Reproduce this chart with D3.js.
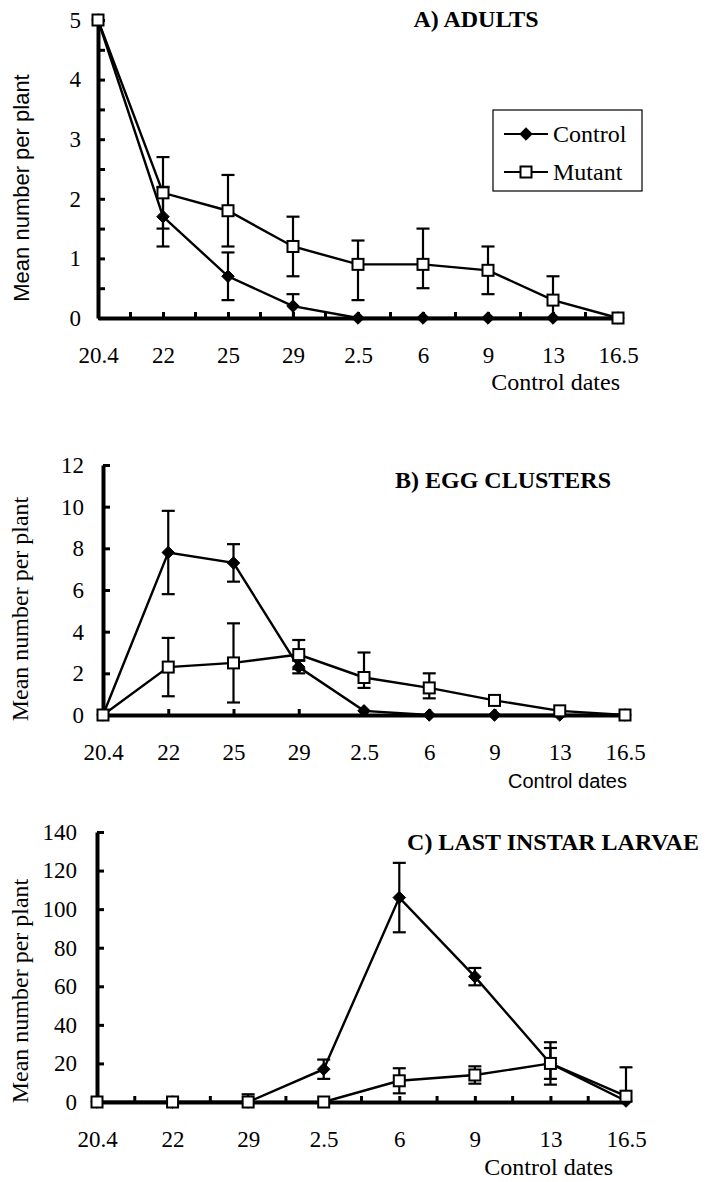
<!DOCTYPE html>
<html>
<head>
<meta charset="utf-8">
<script src="https://cdn.jsdelivr.net/npm/d3@7"></script>
<style>
  body { margin: 0; background: #fff; }
</style>
</head>
<body>
<svg width="706" height="1182"></svg>
<script>
// control dates (day.month) on the x axis
const datesAB = ["20.4", "22", "25", "29", "2.5", "6", "9", "13", "16.5"];
const datesC = ["20.4", "22", "29", "2.5", "6", "9", "13", "16.5"];

// A) adults
const adultsControl = [5, 1.7, 0.7, 0.2, 0, 0, 0, 0, 0];
const adultsControlUp = [0, 0.5, 0.4, 0.2, 0, 0, 0, 0, 0];
const adultsControlDown = [0, 0.5, 0.4, 0.2, 0, 0, 0, 0, 0];
const adultsMutant = [5, 2.1, 1.8, 1.2, 0.9, 0.9, 0.8, 0.3, 0];
const adultsMutantUp = [0, 0.6, 0.6, 0.5, 0.4, 0.6, 0.4, 0.4, 0];
const adultsMutantDown = [0, 0.6, 0.6, 0.5, 0.6, 0.4, 0.4, 0.4, 0];

// B) egg clusters
const eggControl = [0, 7.8, 7.3, 2.3, 0.2, 0, 0, 0, 0];
const eggControlUp = [0, 2.0, 0.9, 0.3, 0, 0, 0, 0, 0];
const eggControlDown = [0, 2.0, 0.9, 0.3, 0, 0, 0, 0, 0];
const eggMutant = [0, 2.3, 2.5, 2.9, 1.8, 1.3, 0.7, 0.2, 0];
const eggMutantUp = [0, 1.4, 1.9, 0.7, 1.2, 0.7, 0, 0, 0];
const eggMutantDown = [0, 1.4, 1.9, 0.7, 0.5, 0.5, 0, 0, 0];

// C) last instar larvae
const larvaeControl = [0, 0, 0, 17, 106, 65, 20, 0.5];
const larvaeControlUp = [0, 2, 4, 5, 18, 4.5, 11, 0];
const larvaeControlDown = [0, 0, 0, 5, 18, 4.5, 11, 0];
const larvaeMutant = [0, 0, 0, 0, 11, 14, 20, 3];
const larvaeMutantUp = [0, 0, 0, 0, 6.5, 4.5, 8, 15];
const larvaeMutantDown = [0, 0, 0, 0, 6.5, 4.5, 8, 3];

const legendLabels = ["Control", "Mutant"];

const serif = "'Liberation Serif', 'Times New Roman', serif";
const sans = "'Liberation Sans', Arial, sans-serif";

const svg = d3.select("svg")

function marker(sel, kind) {
    if (kind === "control") {
        sel.append("path")
            .attr("d", d3.symbol().type(d3.symbolDiamond2).size(100))
            .attr("fill", "#000")
            .attr("stroke", "#000")
            .attr("stroke-width", 1);
    } else {
        sel.append("rect")
            .attr("x", -5.5).attr("y", -5.5)
            .attr("width", 11).attr("height", 11)
            .attr("fill", "#fff")
            .attr("stroke", "#000")
            .attr("stroke-width", 2);
    }
}

function drawPanel(p) {
    const x = d3.scalePoint().domain(p.dates).range([p.left, p.right]).padding(0)
    const y = d3.scaleLinear().domain([0, p.yMax]).range([p.bottom, p.top])
    const g = svg.append("g")

    // y axis, ticks pointing into the plot
    const yAxis = g.append("g")
        .attr("transform", `translate(${p.left},0)`)
        .call(d3.axisLeft(y)
            .tickValues(p.yTicks)
            .tickFormat(d => (d % p.yLabelStep === 0 ? d : ""))
            .tickSize(-7)
            .tickSizeOuter(0)
            .tickPadding(p.yPad));
    yAxis.select(".domain").attr("stroke-width", 4);
    yAxis.selectAll(".tick line").attr("stroke-width", 3);
    yAxis.selectAll(".tick text")
        .style("font-family", serif)
        .style("font-size", "23px")
        .attr("fill", "#000");

    // x axis, ticks pointing up
    const xAxis = g.append("g")
        .attr("transform", `translate(0,${p.bottom})`)
        .call(d3.axisBottom(x).tickSize(-6).tickSizeOuter(0));
    xAxis.select(".domain").attr("stroke-width", 4);
    xAxis.selectAll(".tick line").attr("stroke-width", 3);
    xAxis.selectAll(".tick text")
        .attr("dy", null)
        .attr("y", p.xLabelY - p.bottom)
        .style("font-family", serif)
        .style("font-size", "23px")
        .attr("fill", "#000");

    if (p.halfTicks) {
        const mids = d3.pairs(p.dates).map(([a, b]) => (x(a) + x(b)) / 2)
        g.selectAll(".mid")
            .data(mids)
            .enter().append("line")
            .attr("x1", d => d).attr("x2", d => d)
            .attr("y1", p.bottom).attr("y2", p.bottom - 6)
            .attr("stroke", "#000")
            .attr("stroke-width", 3);
    }

    p.series.forEach(s => {
        const pts = p.dates.map((d, i) => ({ d: d, v: s.values[i], up: s.up[i], down: s.down[i] }))

        g.append("path")
            .datum(pts)
            .attr("d", d3.line().x(d => x(d.d)).y(d => y(d.v)))
            .attr("fill", "none")
            .attr("stroke", "#000")
            .attr("stroke-width", 2.4);

        // error bars
        pts.filter(d => d.up > 0 || d.down > 0).forEach(d => {
            const cx = x(d.d)
            const lo = Math.max(0, d.v - d.down)
            const hi = d.v + d.up
            g.append("line")
                .attr("x1", cx).attr("x2", cx)
                .attr("y1", y(lo)).attr("y2", y(hi))
                .attr("stroke", "#000").attr("stroke-width", 2.2);
            if (d.up > 0) {
                g.append("line")
                    .attr("x1", cx - 6.5).attr("x2", cx + 6.5)
                    .attr("y1", y(hi)).attr("y2", y(hi))
                    .attr("stroke", "#000").attr("stroke-width", 2.2);
            }
            if (d.down > 0 && d.v - d.down > 0) {
                g.append("line")
                    .attr("x1", cx - 6.5).attr("x2", cx + 6.5)
                    .attr("y1", y(lo)).attr("y2", y(lo))
                    .attr("stroke", "#000").attr("stroke-width", 2.2);
            }
        });
    });

    p.series.forEach(s => {
        p.dates.forEach((d, i) => {
            const m = g.append("g").attr("transform", `translate(${x(d)},${y(s.values[i])})`)
            marker(m, s.kind)
        });
    });

    // titles
    g.append("text")
        .text(p.title)
        .attr("x", p.titleX)
        .attr("y", p.titleY)
        .attr("text-anchor", "middle")
        .style("font-family", serif)
        .style("font-weight", "bold")
        .style("font-size", "24px");

    g.append("text")
        .text("Mean number per plant")
        .attr("transform", `translate(${p.yTitleX},${p.yTitleY}) rotate(-90)`)
        .attr("text-anchor", "middle")
        .style("font-family", p.yTitleFont)
        .style("font-size", p.yTitleSize);

    g.append("text")
        .text("Control dates")
        .attr("x", p.xTitleX)
        .attr("y", p.xTitleY)
        .attr("text-anchor", "end")
        .style("font-family", p.xTitleFont)
        .style("font-size", p.xTitleSize);
}

drawPanel({
    dates: datesAB, left: 98, right: 618, top: 20, bottom: 318, yMax: 5,
    yTicks: d3.range(0, 5.01, 0.5), yLabelStep: 1, yPad: 17, xLabelY: 363, halfTicks: true,
    series: [
        { kind: "control", values: adultsControl, up: adultsControlUp, down: adultsControlDown },
        { kind: "mutant", values: adultsMutant, up: adultsMutantUp, down: adultsMutantDown }
    ],
    title: "A) ADULTS", titleX: 476, titleY: 27,
    yTitleX: 29, yTitleY: 188, yTitleFont: sans, yTitleSize: "22px",
    xTitleX: 620, xTitleY: 390, xTitleFont: serif, xTitleSize: "24px"
})

drawPanel({
    dates: datesAB, left: 103, right: 625, top: 465, bottom: 715, yMax: 12,
    yTicks: d3.range(0, 12.01, 2), yLabelStep: 2, yPad: 19, xLabelY: 760, halfTicks: false,
    series: [
        { kind: "control", values: eggControl, up: eggControlUp, down: eggControlDown },
        { kind: "mutant", values: eggMutant, up: eggMutantUp, down: eggMutantDown }
    ],
    title: "B) EGG CLUSTERS", titleX: 503, titleY: 488,
    yTitleX: 28, yTitleY: 609, yTitleFont: serif, yTitleSize: "24px",
    xTitleX: 627, xTitleY: 788, xTitleFont: sans, xTitleSize: "20px"
})

drawPanel({
    dates: datesC, left: 97, right: 626, top: 832, bottom: 1102, yMax: 140,
    yTicks: d3.range(0, 140.01, 20), yLabelStep: 20, yPad: 20, xLabelY: 1147, halfTicks: true,
    series: [
        { kind: "control", values: larvaeControl, up: larvaeControlUp, down: larvaeControlDown },
        { kind: "mutant", values: larvaeMutant, up: larvaeMutantUp, down: larvaeMutantDown }
    ],
    title: "C) LAST INSTAR LARVAE", titleX: 553, titleY: 850,
    yTitleX: 28, yTitleY: 991, yTitleFont: serif, yTitleSize: "24px",
    xTitleX: 613, xTitleY: 1175, xTitleFont: serif, xTitleSize: "24px"
})

// legend of panel A
const legend = svg.append("g")
legend.append("rect")
    .attr("x", 493).attr("y", 110)
    .attr("width", 149).attr("height", 81)
    .attr("fill", "#fff")
    .attr("stroke", "#000")
    .attr("stroke-width", 1.2);

legendLabels.forEach((label, i) => {
    const cy = 134 + i * 38
    legend.append("line")
        .attr("x1", 504).attr("x2", 548)
        .attr("y1", cy).attr("y2", cy)
        .attr("stroke", "#000").attr("stroke-width", 2);
    marker(legend.append("g").attr("transform", `translate(526,${cy})`), i === 0 ? "control" : "mutant")
    legend.append("text")
        .text(label)
        .attr("x", 553)
        .attr("y", cy + 8)
        .style("font-family", serif)
        .style("font-size", "24px");
});
</script>
</body>
</html>
